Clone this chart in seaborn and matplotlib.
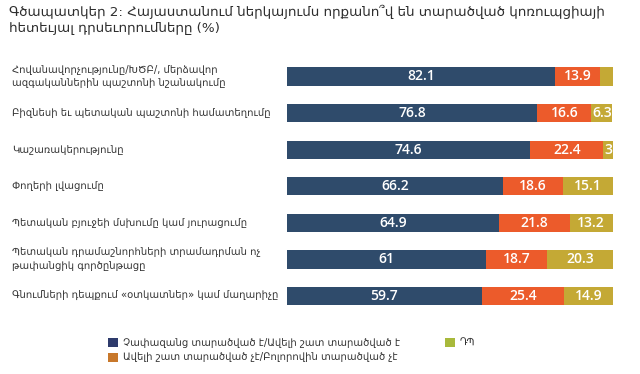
import numpy as np
import pandas as pd
import matplotlib
matplotlib.use("Agg")
import matplotlib.pyplot as plt
from matplotlib.patches import Patch
import seaborn as sns

# === Data ===
categories = [
    "Հովանավորչությունը/ԽԾԲ/, մերձավոր\nազգականներին պաշտոնի նշանակումը",
    "Բիզնեսի եւ պետական պաշտոնի համատեղումը",
    "Կաշառակերությունը",
    "Փողերի լվացումը",
    "Պետական բյուջեի մսխումը կամ յուրացումը",
    "Պետական դրամաշնորհների տրամադրման ոչ\nթափանցիկ գործընթացը",
    "Գնումների դեպքում «օտկատներ» կամ մաղարիչը",
]
widespread = [82.1, 76.8, 74.6, 66.2, 64.9, 61.0, 59.7]
not_widespread = [13.9, 16.6, 22.4, 18.6, 21.8, 18.7, 25.4]
dont_know = [4.0, 6.3, 3.0, 15.1, 13.2, 20.3, 14.9]
dont_know_labels = ["", "6.3", "3", "15.1", "13.2", "20.3", "14.9"]

series_names = [
    "Չափազանց տարածված է/Ավելի շատ տարածված է",
    "Ավելի շատ տարածված չէ/Բոլորովին տարածված չէ",
    "ԴՊ",
]
title = ("Գծապատկեր 2: Հայաստանում ներկայումս որքանո՞վ են տարածված կոռուպցիայի\n"
         "հետեւյալ դրսեւորումները (%)")

# bar colours and legend colours differ slightly in the original
bar_colors = ["#2f4b6b", "#ec5b2b", "#c4a935"]
legend_colors = ["#2e3b6c", "#c8782b", "#a8b93b"]

df = pd.DataFrame({
    "cat": categories,
    "a": widespread,
    "b": not_widespread,
    "c": dont_know,
})
df["ab"] = df["a"] + df["b"]
df["abc"] = df["ab"] + df["c"]

sns.set_style("white")
plt.rcParams["font.family"] = ["DejaVu Sans"]

fig = plt.figure(figsize=(6.4, 3.74), dpi=100)
ax = fig.add_axes([287 / 640, 1 - 314.3 / 374, 326 / 640, 256.1 / 374])

# stacked horizontal bars: draw totals first, then overlay
for col, color in zip(["abc", "ab", "a"], bar_colors[::-1]):
    sns.barplot(data=df, x=col, y="cat", orient="h", color=color,
                saturation=1, width=0.5, linewidth=0, ax=ax)

ax.set_xlim(0, 100)
ax.set_ylim(len(categories) - 0.5, -0.5)
ax.axis("off")

# value labels
num_font = dict(family="Open Sans", weight="semibold", color="white", fontsize=10,
                ha="center", va="center")
for i, row in df.iterrows():
    ax.text(row["a"] / 2, i, f"{row['a']:g}", **num_font)
    ax.text(row["a"] + row["b"] / 2, i, f"{row['b']:g}", **num_font)
    ax.text(row["ab"] + row["c"] / 2, i, dont_know_labels[i], **num_font)

# category labels
label_x = (12 - 287) / 326
for i, cat in enumerate(categories):
    ax.text(label_x, i, cat, transform=ax.get_yaxis_transform(),
            ha="left", va="center", fontsize=7.2, color="#333333", linespacing=1.4)

fig.text(9 / 640, 1 - 5 / 374, title, ha="left", va="top",
         fontsize=9.7, color="#2e2e2e", linespacing=1.3)

handles = [Patch(facecolor=c, edgecolor="none") for c in legend_colors]
fig.legend(handles, series_names, loc="upper left",
           bbox_to_anchor=(99 / 640, 1 - 329 / 374), ncol=2, frameon=False,
           fontsize=7.2, handlelength=1.0, handleheight=1.0, handletextpad=0.5,
           columnspacing=4.5, labelspacing=0.45, labelcolor="#333333")

fig.savefig("out.png", dpi=100)
